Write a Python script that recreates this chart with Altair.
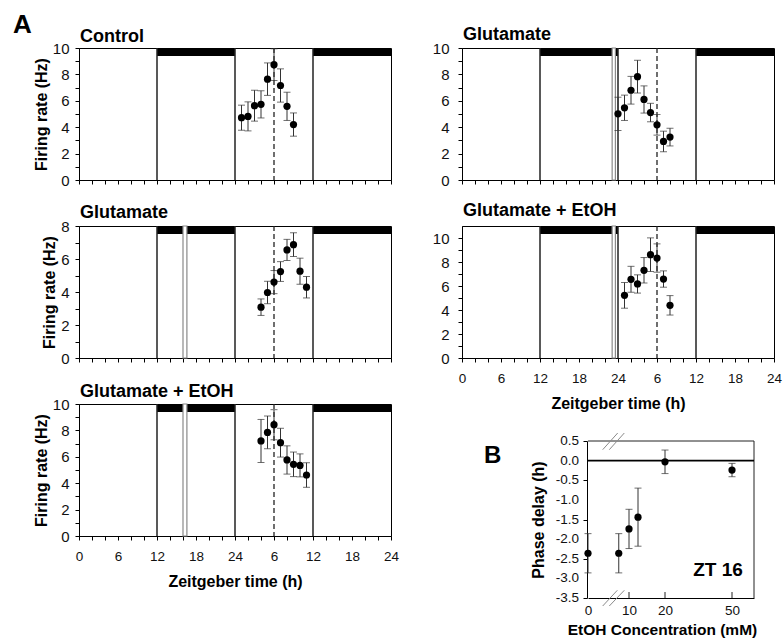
import altair as alt
import pandas as pd

# ---------------- Panel A data (time on a 48 h axis; label = hour mod 24) ----------------
ctrl_t = [25, 26, 27, 28, 29, 30, 31, 32, 33]
ctrl_rate = [4.72, 4.82, 5.63, 5.73, 7.64, 8.74, 7.16, 5.58, 4.20]
ctrl_sem = [0.95, 1.10, 1.17, 1.03, 1.23, 1.20, 1.26, 1.07, 0.88]

glu16_t = [28, 29, 30, 31, 32, 33, 34, 35]
glu16_rate = [3.08, 3.97, 4.60, 5.24, 6.55, 6.87, 5.26, 4.29]
glu16_sem = [0.50, 0.68, 0.70, 0.60, 0.64, 0.72, 0.79, 0.65]

gluetoh16_t = [28, 29, 30, 31, 32, 33, 34, 35]
gluetoh16_rate = [7.20, 7.85, 8.43, 7.07, 5.76, 5.43, 5.35, 4.62]
gluetoh16_sem = [1.63, 1.24, 1.14, 1.09, 1.07, 0.93, 0.87, 0.93]

glu23_t = [24, 25, 26, 27, 28, 29, 30, 31, 32]
glu23_rate = [5.01, 5.47, 6.80, 7.83, 6.10, 5.11, 4.18, 2.92, 3.25]
glu23_sem = [1.26, 0.96, 1.05, 1.24, 1.03, 0.70, 0.78, 0.78, 0.67]

gluetoh23_t = [25, 26, 27, 28, 29, 30, 31, 32]
gluetoh23_rate = [5.22, 6.56, 6.17, 7.31, 8.61, 8.33, 6.58, 4.39]
gluetoh23_sem = [1.07, 1.08, 0.76, 1.06, 1.40, 1.18, 0.68, 0.81]

night_start = [12, 36]
night_end = [24, 48]
day_bounds = [12, 24, 36]
zt6_line = [30]
pulse_zt16 = [16.0, 16.6]
pulse_zt23 = [23.1, 23.6]

# ---------------- Panel B data ----------------
etoh_conc = [0, 7.5, 10, 12.5, 20, 50]
phase_delay = [-2.36, -2.36, -1.74, -1.44, -0.03, -0.24]
phase_sem = [0.50, 0.50, 0.50, 0.74, 0.30, 0.17]
b_ticks = [10, 20, 50]
b_yvalues = [-3.5, -3.0, -2.5, -2.0, -1.5, -1.0, -0.5, 0.0, 0.5]

FONT = "Liberation Sans"
W, H = 312, 132
LINE = "#222222"


def panel(t, rate, sem, ymax, title, title_dy, pulse=None, xlabels=False,
          ytitle=True, ylabpad=6, letter=False):
    df = pd.DataFrame({
        "t": t, "rate": rate,
        "lo": [r - s for r, s in zip(rate, sem)],
        "hi": [r + s for r, s in zip(rate, sem)],
    })
    xs = alt.Scale(domain=[0, 48], nice=False, zero=False)
    ys = alt.Scale(domain=[0, ymax], nice=False, zero=True)
    xaxis = alt.Axis(
        values=list(range(0, 49, 2)), labels=xlabels, tickSize=4,
        labelExpr="datum.value % 6 == 0 ? (datum.value == 0 ? '0' : (datum.value % 24 == 0 ? '24' : '' + (datum.value % 24))) : ''",
        labelOverlap=False, labelFlush=False, labelPadding=9, labelFontSize=13.5,
        title="Zeitgeber time (h)" if xlabels else "", titlePadding=11,
    )
    yaxis = alt.Axis(
        values=list(range(0, 11)), tickSize=4, labelPadding=ylabpad,
        labelExpr="datum.value % 2 == 0 ? datum.label : ''",
        labelOverlap=False, labelFlush=False, labelFontSize=15,
        title="Firing rate (Hz)" if ytitle else "", titlePadding=3,
    )

    def X(f):
        return alt.X(f, type="quantitative", scale=xs, axis=xaxis)

    def Y(f):
        return alt.Y(f, type="quantitative", scale=ys, axis=yaxis)

    night = pd.DataFrame({"s": night_start, "e": night_end})
    layers = [
        alt.Chart(night).mark_rect(color="black").encode(
            x=X("s"), x2="e", y=alt.value(0), y2=alt.value(8)),
        alt.Chart(pd.DataFrame({"b": day_bounds})).mark_rule(
            color=LINE, strokeWidth=1.5).encode(x=X("b")),
    ]
    if pulse is not None:
        layers.append(
            alt.Chart(pd.DataFrame({"g0": [pulse[0]], "g1": [pulse[1]]})).mark_rect(
                fill="white", stroke="#8a8a8a", strokeWidth=1.2).encode(
                x=X("g0"), x2="g1", y=alt.value(0), y2=alt.value(H)))
    layers += [
        alt.Chart(pd.DataFrame({"z": zt6_line})).mark_rule(
            color=LINE, strokeWidth=1.3, strokeDash=[5, 3]).encode(x=X("z")),
        alt.Chart(df).mark_rule(color="#333333", strokeWidth=1).encode(
            x=X("t"), y=Y("lo"), y2="hi"),
        alt.Chart(df).mark_tick(orient="horizontal", size=7, thickness=1,
                                color="#333333").encode(x=X("t"), y=Y("hi")),
        alt.Chart(df).mark_tick(orient="horizontal", size=7, thickness=1,
                                color="#333333").encode(x=X("t"), y=Y("lo")),
        alt.Chart(df).mark_circle(size=52, color="black", opacity=1).encode(
            x=X("t"), y=Y("rate")),
        alt.Chart(pd.DataFrame({"label": [title]})).mark_text(
            align="left", baseline="alphabetic", fontSize=18, fontWeight="bold",
            font=FONT, color="black").encode(
            text="label:N", x=alt.value(1), y=alt.value(title_dy)),
    ]
    if letter:
        layers.append(
            alt.Chart(pd.DataFrame({"label": ["A"]})).mark_text(
                align="left", baseline="alphabetic", fontSize=26, fontWeight="bold",
                font=FONT, color="black").encode(
                text="label:N", x=alt.value(-66), y=alt.value(-15)))
    return alt.layer(*layers).properties(width=W, height=H)


L1 = panel(ctrl_t, ctrl_rate, ctrl_sem, 10, "Control", -6, letter=True)
L2 = panel(glu16_t, glu16_rate, glu16_sem, 8, "Glutamate", -8, pulse=pulse_zt16)
L3 = panel(gluetoh16_t, gluetoh16_rate, gluetoh16_sem, 10, "Glutamate + EtOH", -7,
           pulse=pulse_zt16, xlabels=True)
R1 = panel(glu23_t, glu23_rate, glu23_sem, 10, "Glutamate", -8, pulse=pulse_zt23,
           ytitle=False, ylabpad=9)
R2 = panel(gluetoh23_t, gluetoh23_rate, gluetoh23_sem, 11, "Glutamate + EtOH", -10,
           pulse=pulse_zt23, xlabels=True, ytitle=False, ylabpad=9)

# ---------------- Panel B ----------------
BW, BH = 292, 194
BX0 = 126  # pixel offset of panel B's plot inside its grid cell
bdf = pd.DataFrame({
    "c": etoh_conc, "d": phase_delay,
    "lo": [d - s for d, s in zip(phase_delay, phase_sem)],
    "hi": [d + s for d, s in zip(phase_delay, phase_sem)],
})
blabels = pd.DataFrame({"v": b_yvalues, "lab": [f"{v:.1f}" for v in b_yvalues]})
bxs = alt.Scale(domain=[0, 10, 20, 50, 60], range=[BX0, 167, 203, 270, 292],
                nice=False, zero=False)
bys = alt.Scale(domain=[-3.5, 0.5], range=[194, 37], nice=False, zero=False)
bxaxis = alt.Axis(values=[0, 10, 20, 50], ticks=False, labelPadding=5, format="d",
                  labelFlush=False, labelOverlap=False, labelFontSize=13.5,
                  title="EtOH Concentration (mM)", titleX=200, titlePadding=6,
                  titleFontSize=15.5)
byaxis = alt.Axis(values=b_yvalues,
                  offset=-(BX0 - 1), tickSize=4, labels=False,
                  title="Phase delay (h)", titlePadding=36)


def BX(f):
    return alt.X(f, type="quantitative", scale=bxs, axis=bxaxis)


def BY(f):
    return alt.Y(f, type="quantitative", scale=bys, axis=byaxis)


one = pd.DataFrame({"k": [0]})
brk = dict(color="#8a8a8a", strokeWidth=1)
b_layers = [
    alt.Chart(bdf).mark_rule(color="#333333", strokeWidth=1).encode(
        x=BX("c"), y=BY("lo"), y2="hi"),
    alt.Chart(blabels).mark_text(
        align="right", baseline="middle", fontSize=13.5, font=FONT, color="#111111").encode(
        text="lab:N", x=alt.value(BX0 - 9), y=BY("v")),
    alt.Chart(one).mark_rule(color=LINE, strokeWidth=1).encode(
        x=alt.datum(0), x2=alt.datum(60), y=alt.datum(0.5)),
    alt.Chart(one).mark_rule(color=LINE, strokeWidth=1).encode(
        x=alt.datum(60), y=alt.datum(-3.5), y2=alt.datum(0.5)),
    alt.Chart(one).mark_rule(color="black", strokeWidth=1.8).encode(
        x=alt.datum(0), x2=alt.datum(60), y=alt.datum(0)),
    alt.Chart(pd.DataFrame({"c": b_ticks})).mark_rule(color=LINE, strokeWidth=1).encode(
        x=BX("c"), y=alt.datum(-3.5), y2=alt.value(BH - 6)),
    alt.Chart(one).mark_rule(**brk).encode(
        x=alt.value(140.7), y=alt.value(45.7), x2=alt.value(155.7), y2=alt.value(29)),
    alt.Chart(one).mark_rule(**brk).encode(
        x=alt.value(147.3), y=alt.value(45.7), x2=alt.value(162.3), y2=alt.value(29)),
    alt.Chart(one).mark_rule(**brk).encode(
        x=alt.value(140.7), y=alt.value(202), x2=alt.value(155.3), y2=alt.value(186.3)),
    alt.Chart(one).mark_rule(**brk).encode(
        x=alt.value(147.3), y=alt.value(202), x2=alt.value(162.3), y2=alt.value(186.3)),
    alt.Chart(bdf).mark_tick(orient="horizontal", size=7, thickness=1,
                             color="#333333").encode(x=BX("c"), y=BY("hi")),
    alt.Chart(bdf).mark_tick(orient="horizontal", size=7, thickness=1,
                             color="#333333").encode(x=BX("c"), y=BY("lo")),
    alt.Chart(bdf).mark_circle(size=52, color="black", opacity=1).encode(
        x=BX("c"), y=BY("d")),
    alt.Chart(pd.DataFrame({"label": ["ZT 16"]})).mark_text(
        align="center", baseline="alphabetic", fontSize=19, fontWeight="bold",
        font=FONT, color="black").encode(
        text="label:N", x=alt.value(256), y=alt.value(172)),
    alt.Chart(pd.DataFrame({"label": ["B"]})).mark_text(
        align="left", baseline="alphabetic", fontSize=24, fontWeight="bold",
        font=FONT, color="black").encode(
        text="label:N", x=alt.value(22), y=alt.value(59)),
]
B = alt.layer(*b_layers).properties(
    width=BW, height=BH, view=alt.ViewBackground(stroke="transparent"))

chart = alt.concat(
    L1, R1, L2, R2, L3, B, columns=2, spacing={"row": 46, "column": 71},
    bounds="flush", align="each",
).properties(
    padding={"left": 12, "top": 11, "right": 0, "bottom": 0}
).configure(font=FONT).configure_view(
    stroke="black", strokeWidth=1
).configure_axis(
    grid=False, domainColor="black", domainWidth=1, tickColor="black", tickWidth=1,
    labelColor="#111111", labelFont=FONT, labelFontSize=13.5, labelOverlap=False,
    titleFont=FONT, titleFontSize=16, titleFontWeight="bold", titleColor="black",
)

chart.save("out.html", embed_options={"renderer": "svg", "actions": False})
